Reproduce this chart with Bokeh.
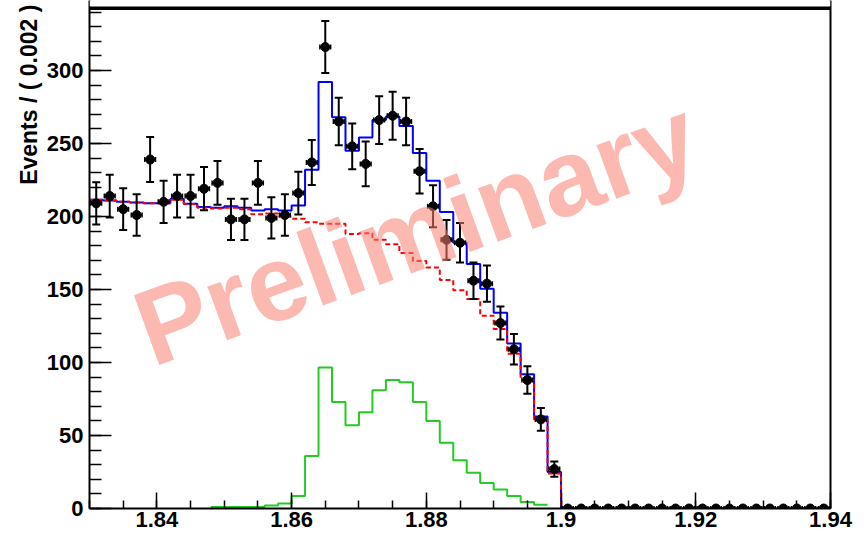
import numpy as np
from bokeh.plotting import figure
from bokeh.models import (Range1d, FixedTicker, BoxAnnotation, LinearAxis,
                          CustomJSTickFormatter)
from bokeh.embed import file_html
from bokeh.resources import INLINE

# Mass window and binning (GeV/c^2)
x_lo, x_hi, bin_w = 1.83, 1.94, 0.002
n_bins = 55

# Observed events per bin
events = [209, 214, 205, 201, 239, 210, 214, 214, 219, 223,
          198, 198, 223, 199, 201, 216, 237, 316, 265, 248,
          236, 266, 269, 265, 231, 207, 184, 182, 156, 154,
          127, 109, 88, 61, 27, 0, 0, 0, 0, 0,
          0, 0, 0, 0, 0, 0, 0, 0, 0, 0,
          0, 0, 0, 0, 0]

# Total fit (signal + background) per bin
total_fit = [211.5, 211, 210, 209.5, 209, 209, 212, 208.7, 206.5, 206,
             207, 206, 204, 205, 204, 207.5, 232, 292, 268, 245,
             254, 266, 268.5, 262, 243.5, 224.5, 203, 182, 167.5, 150.5,
             134, 113, 92, 63, 25, 0, 0, 0, 0, 0,
             0, 0, 0, 0, 0, 0, 0, 0, 0, 0,
             0, 0, 0, 0, 0]

# Background component per bin
background = [211.5, 211, 210, 209.5, 209, 209, 211.5, 208.5, 206, 205.5,
              206, 205, 201.5, 202, 200, 198.5, 196, 195, 195, 188,
              188.5, 184, 181, 175, 169.5, 165, 156.5, 149.5, 143.5, 132,
              123, 106, 88, 61, 24, 0, 0, 0, 0, 0,
              0, 0, 0, 0, 0, 0, 0, 0, 0, 0,
              0, 0, 0, 0, 0]

# Signal component, drawn only over bins 9..33
sig_first_bin = 9
signal = [1, 1, 1, 1, 2, 3.5, 8.5, 36, 96.5, 73,
          57, 66, 81, 88, 86.5, 73, 60, 45, 33, 24.5,
          17.5, 13, 8.5, 4.5, 2.5]

x_major = [1.84, 1.86, 1.88, 1.90, 1.92, 1.94]
y_major = [0, 50, 100, 150, 200, 250, 300]
y_title = "Events / ( 0.002 )"
stamp = "Preliminary"

edges = x_lo + bin_w * np.arange(n_bins + 1)
centers = edges[:-1] + bin_w / 2
ev = np.array(events, dtype=float)
err = np.sqrt(ev)

FONT = "Liberation Sans"

p = figure(width=867, height=536, output_backend="svg", toolbar_location=None,
           x_range=Range1d(x_lo, x_hi), y_range=Range1d(0, 347.9),
           min_border_left=89, min_border_right=37, min_border_top=0,
           min_border_bottom=28)
p.background_fill_color = "white"
p.border_fill_color = "white"
p.grid.visible = False
p.outline_line_color = None

# Axes in ROOT style: ticks pointing into the frame
x_minor = [round(x_lo + 0.005 * k, 3) for k in range(23)]
xax = p.xaxis[0]
yax = p.yaxis[0]
xax.ticker = FixedTicker(ticks=x_major, minor_ticks=x_minor)
xax.formatter = CustomJSTickFormatter(
    code="return tick.toFixed(3).replace(/0+$/, '').replace(/\\.$/, '');")
yax.ticker = FixedTicker(ticks=y_major, minor_ticks=list(range(0, 350, 10)))
for ax, maj, mnr in ((xax, 16, 8), (yax, 22, 12)):
    ax.major_tick_in = maj
    ax.major_tick_out = 0
    ax.minor_tick_in = mnr
    ax.minor_tick_out = 0
    ax.axis_line_width = 2
    ax.major_tick_line_width = 1.5
    ax.minor_tick_line_width = 1.5
    ax.major_label_text_font = FONT
    ax.major_label_text_font_style = "bold"
    ax.major_label_text_font_size = "22px"
    ax.major_label_text_color = "black"
xax.major_label_standoff = 3
yax.major_label_standoff = 6

# Y title sits toward the top of the axis (leading no-break spaces push it up)
yax.axis_label = "\u00a0" * 50 + y_title
yax.axis_label_text_font = FONT
yax.axis_label_text_font_style = "bold"
yax.axis_label_text_font_size = "23px"
yax.axis_label_text_color = "black"
yax.axis_label_standoff = 2

# Right edge of the frame
right_edge = LinearAxis(ticker=FixedTicker(ticks=[]), axis_line_width=2,
                        major_tick_in=0, major_tick_out=0,
                        minor_tick_in=0, minor_tick_out=0)
p.add_layout(right_edge, "right")

# Fit curves as step histograms
p.step(x=edges, y=np.append(total_fit, total_fit[-1]), mode="after",
       line_color="blue", line_width=2)
p.step(x=edges, y=np.append(background, background[-1]), mode="after",
       line_color="red", line_width=2, line_dash="5 3")
sig_edges = edges[sig_first_bin:sig_first_bin + len(signal) + 1]
p.step(x=sig_edges, y=np.append(signal, signal[-1]), mode="after",
       line_color="#22cc22", line_width=2)

# Data points with Poisson error bars
nz = ev > 0
dx = 0.0008
p.segment(x0=centers[nz], y0=(ev - err)[nz], x1=centers[nz], y1=(ev + err)[nz],
          line_color="black", line_width=2)
p.scatter(np.concatenate([centers[nz], centers[nz]]),
          np.concatenate([(ev + err)[nz], (ev - err)[nz]]),
          marker="dash", size=8, line_color="black", line_width=2)
p.segment(x0=centers - dx, y0=ev, x1=centers + dx, y1=ev,
          line_color="black", line_width=2)
p.scatter(np.concatenate([centers - dx, centers + dx]), np.concatenate([ev, ev]),
          marker="dash", angle=np.pi / 2, size=5, line_color="black", line_width=1.5)
p.scatter(centers, ev, marker="circle", size=9, fill_color="black", line_color="black")

# Watermark: a single rotated tick label on an axis pinned inside the frame
stamp_axis = LinearAxis(fixed_location=258.5,
                        ticker=FixedTicker(ticks=[1.9195], minor_ticks=[]),
                        formatter=CustomJSTickFormatter(code="return '%s';" % stamp),
                        axis_line_color=None, major_tick_line_color=None,
                        minor_tick_line_color=None,
                        major_tick_in=0, major_tick_out=0,
                        minor_tick_in=0, minor_tick_out=0,
                        major_label_standoff=0,
                        major_label_orientation=0.349,
                        major_label_text_font=FONT,
                        major_label_text_font_style="bold",
                        major_label_text_font_size="108px",
                        major_label_text_color="salmon",
                        major_label_text_alpha=0.55)
p.add_layout(stamp_axis, "below")

# Title pave along the top edge of the frame
p.add_layout(BoxAnnotation(bottom=343.8, fill_color="white", fill_alpha=1.0,
                           line_color=None))
p.add_layout(BoxAnnotation(bottom=341.4, top=343.8, fill_color="black",
                           fill_alpha=1.0, line_color=None))

open("out.html", "w").write(file_html(p, INLINE))
